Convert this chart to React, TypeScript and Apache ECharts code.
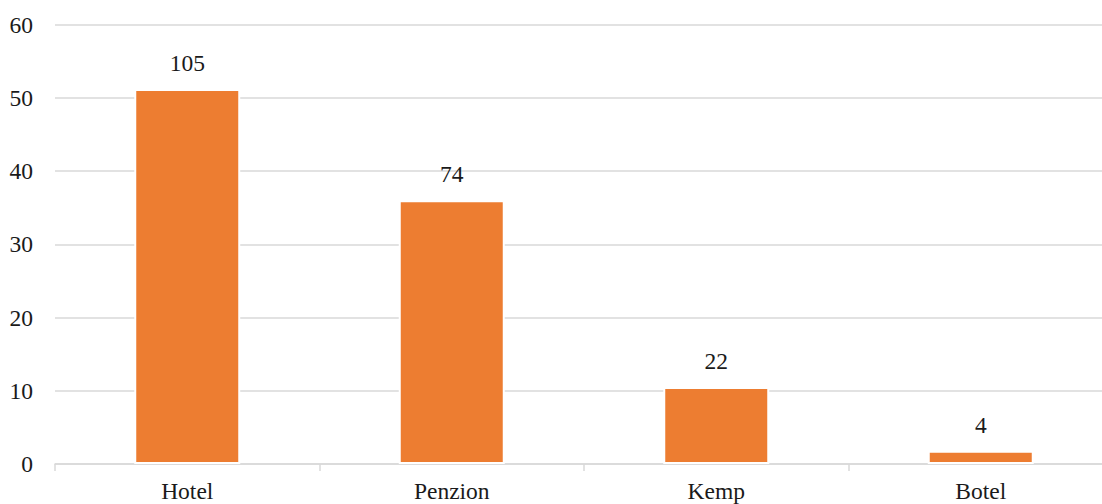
import React, { useEffect, useRef } from "react";
import * as echarts from "echarts";

const categories = ["Hotel", "Penzion", "Kemp", "Botel"];
const barValues = [51.2, 36.0, 10.5, 1.8];
const countLabels = [105, 74, 22, 4];
const yTicks = { min: 0, max: 60, interval: 10 };

export default function App() {
  const ref = useRef<HTMLDivElement>(null);
  useEffect(() => {
    if (!ref.current) return;
    const chart = echarts.init(ref.current, null, { renderer: "svg" });
    const font = "Liberation Serif";
    chart.setOption({
      animation: false,
      grid: { left: 55, top: 24.5, right: 0, bottom: 40, containLabel: false },
      xAxis: {
        type: "category",
        data: categories,
        axisLine: { lineStyle: { color: "#d9d9d9", width: 1.5 } },
        axisTick: { show: true, length: 7, lineStyle: { color: "#d9d9d9", width: 1.5 } },
        axisLabel: { color: "#1a1a1a", fontFamily: font, fontSize: 23.5, margin: 15 },
      },
      yAxis: {
        type: "value",
        min: yTicks.min,
        max: yTicks.max,
        interval: yTicks.interval,
        axisLine: { show: false },
        axisTick: { show: false },
        splitLine: { lineStyle: { color: "#d9d9d9", width: 1.5 } },
        axisLabel: { color: "#1a1a1a", fontFamily: font, fontSize: 23.5, margin: 22 },
      },
      series: [
        {
          type: "bar",
          data: barValues,
          barWidth: 106,
          itemStyle: { color: "#ED7D31", borderColor: "#ffffff", borderWidth: 2 },
          label: {
            show: true,
            position: "top",
            distance: 14,
            fontFamily: font,
            fontSize: 23.5,
            color: "#1a1a1a",
            formatter: (p: any) => String(countLabels[p.dataIndex]),
          },
        },
      ],
    });
    return () => chart.dispose();
  }, []);
  return (
    <div style={{ position: "absolute", left: 0, top: 0, width: 1102, height: 504, overflow: "hidden" }}>
      <div ref={ref} style={{ width: 1113, height: 504 }} />
    </div>
  );
}
